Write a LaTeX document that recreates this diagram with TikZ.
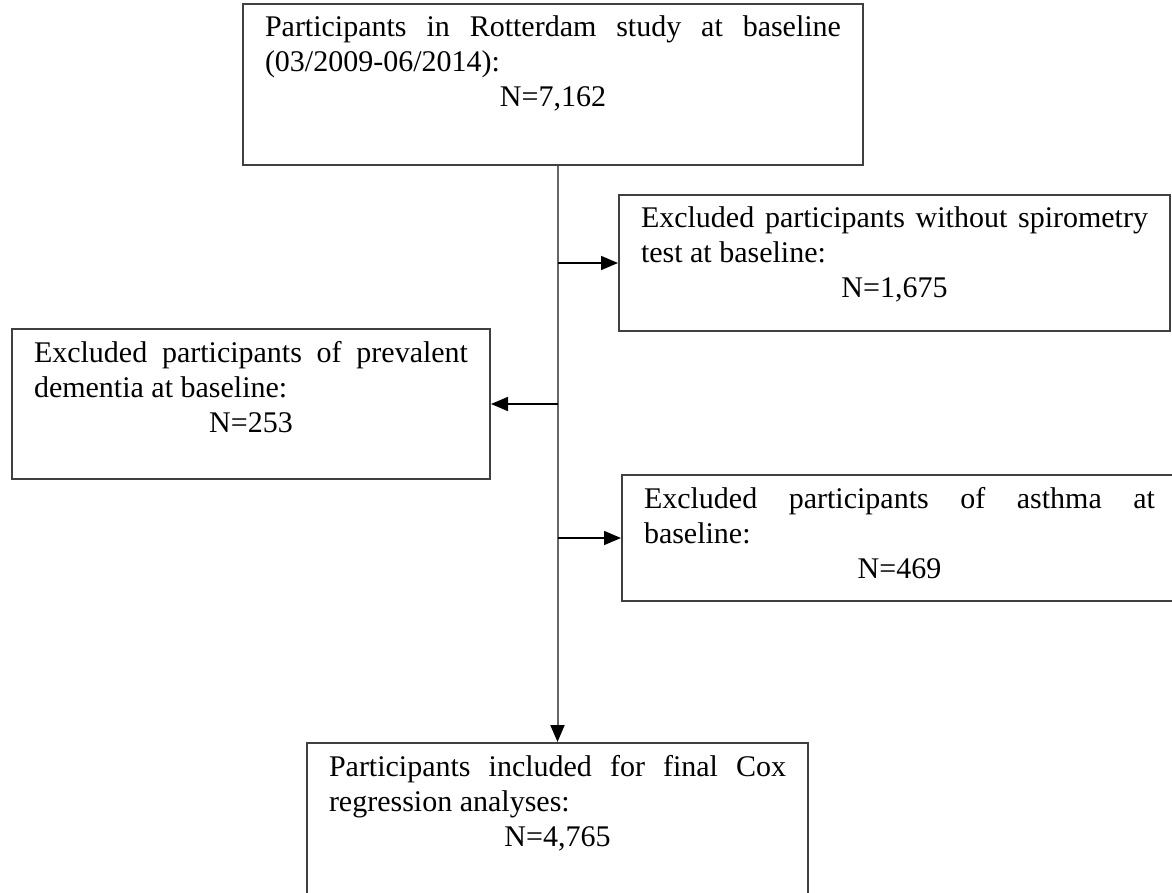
\documentclass[tikz,border=0pt]{standalone}
\usepackage{fontspec}
\setmainfont{Liberation Serif}
\usetikzlibrary{arrows.meta}
\tolerance=10000
\hbadness=10000
\hyphenpenalty=10000
\begin{document}
\begin{tikzpicture}[
  x=0.5pt, y=-0.5pt,
  flowbox/.style={draw=black!75, line width=1pt, inner xsep=11pt, inner ysep=6pt,
    anchor=north west, font=\fontsize{15}{17.5}\selectfont},
  spine/.style={draw=black!60, line width=1pt},
  >={Triangle[length=8.5pt,width=7pt,color=black]}
]
  \clip (0,0) rectangle (1172,893);

  \node[flowbox] (top) at (242,3) {\parbox[t][68.5pt][t]{288pt}{%
    Participants in Rotterdam study at baseline\linebreak (03/2009-06/2014):\par
    \centering N=7,162}};
  \node[flowbox] (spiro) at (618,194) {\parbox[t][56pt][t]{253.5pt}{%
    Excluded participants without spirometry\linebreak test at baseline:\par
    \centering N=1,675}};
  \node[flowbox] (dementia) at (11,328) {\parbox[t][63pt][t]{217pt}{%
    Excluded participants of prevalent\linebreak dementia at baseline:\par
    \centering N=253}};
  \node[flowbox] (asthma) at (621,474) {\parbox[t][51pt][t]{255.5pt}{%
    Excluded participants of asthma at\linebreak baseline:\par
    \centering N=469}};
  \node[flowbox] (final) at (306,742) {\parbox[t][68pt][t]{228.5pt}{%
    Participants included for final Cox\linebreak regression analyses:\par
    \centering N=4,765}};

  % main line and the three exclusions
  \draw[spine, ->] (top.south -| final.north) -- (final.north);
  \begin{scope}[->, line width=0.8pt]
    \draw (spiro.west -| final.north) -- (spiro.west);
    \draw (dementia.east -| final.north) -- (dementia.east);
    \draw (asthma.west -| final.north) -- (asthma.west);
  \end{scope}
\end{tikzpicture}
\end{document}
